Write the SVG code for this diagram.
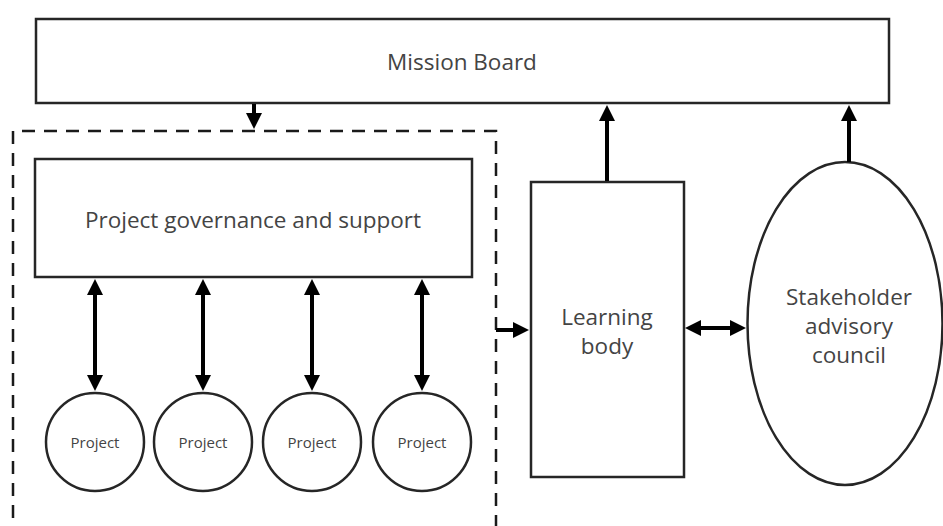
<svg xmlns="http://www.w3.org/2000/svg" width="943" height="526" viewBox="0 0 943 526">
  <style>
    .box { fill: #fff; stroke: #262626; stroke-width: 2.5; }
    .group { fill: none; stroke: #1a1a1a; stroke-width: 2.5; stroke-dasharray: 13 9; }
    .link { fill: none; stroke: #000; stroke-width: 4; }
    .lbl { font-family: "Open Sans", "Liberation Sans", sans-serif; fill: #444; text-anchor: middle; }
    .big { font-size: 22.5px; }
    .small { font-size: 15px; }
  </style>
  <defs>
    <marker id="head" markerUnits="userSpaceOnUse" viewBox="0 0 16 16" refX="8" refY="8" markerWidth="16" markerHeight="16" orient="auto-start-reverse">
      <path d="M0,0 L16,8 L0,16 z" fill="#000"/>
    </marker>
  </defs>

  <rect width="943" height="526" fill="#fff"/>

  <!-- dashed boundary around project governance and projects -->
  <g id="project-area">
    <path class="group" d="M13,540 L13,131 L496,131 L496,540"/>
  </g>

  <g id="mission-board">
    <rect class="box" x="36" y="19" width="853" height="84"/>
    <text class="lbl big" x="462" y="70">Mission Board</text>
  </g>

  <g id="project-governance">
    <rect class="box" x="35" y="159" width="437" height="118"/>
    <text class="lbl big" x="253" y="228">Project governance and support</text>
  </g>

  <g id="project-1">
    <circle class="box" cx="95" cy="442" r="49"/>
    <text class="lbl small" x="95" y="448">Project</text>
  </g>
  <g id="project-2">
    <circle class="box" cx="203" cy="442" r="49"/>
    <text class="lbl small" x="203" y="448">Project</text>
  </g>
  <g id="project-3">
    <circle class="box" cx="312" cy="442" r="49"/>
    <text class="lbl small" x="312" y="448">Project</text>
  </g>
  <g id="project-4">
    <circle class="box" cx="422" cy="442" r="49"/>
    <text class="lbl small" x="422" y="448">Project</text>
  </g>

  <g id="learning-body">
    <rect class="box" x="531" y="182" width="153" height="295"/>
    <text class="lbl big" x="607" y="325">Learning</text>
    <text class="lbl big" x="607" y="354">body</text>
  </g>

  <g id="stakeholder-council">
    <ellipse class="box" cx="845" cy="323.5" rx="97.5" ry="161.5"/>
    <text class="lbl big" x="849" y="305">Stakeholder</text>
    <text class="lbl big" x="849" y="334">advisory</text>
    <text class="lbl big" x="849" y="363">council</text>
  </g>

  <g id="connectors">
    <!-- board to project area -->
    <line class="link" x1="254" y1="104" x2="254" y2="121" marker-end="url(#head)"/>
    <!-- governance to each project, both ways -->
    <line class="link" x1="95" y1="287" x2="95" y2="383" marker-start="url(#head)" marker-end="url(#head)"/>
    <line class="link" x1="203" y1="287" x2="203" y2="383" marker-start="url(#head)" marker-end="url(#head)"/>
    <line class="link" x1="312" y1="287" x2="312" y2="383" marker-start="url(#head)" marker-end="url(#head)"/>
    <line class="link" x1="422" y1="287" x2="422" y2="383" marker-start="url(#head)" marker-end="url(#head)"/>
    <!-- project area to learning body -->
    <line class="link" x1="496" y1="330" x2="521" y2="330" marker-end="url(#head)"/>
    <!-- learning body up to board -->
    <line class="link" x1="607" y1="181" x2="607" y2="113" marker-end="url(#head)"/>
    <!-- council up to board -->
    <line class="link" x1="849" y1="162" x2="849" y2="113" marker-end="url(#head)"/>
    <!-- learning body and council, both ways -->
    <line class="link" x1="693" y1="328" x2="738" y2="328" marker-start="url(#head)" marker-end="url(#head)"/>
  </g>
</svg>
